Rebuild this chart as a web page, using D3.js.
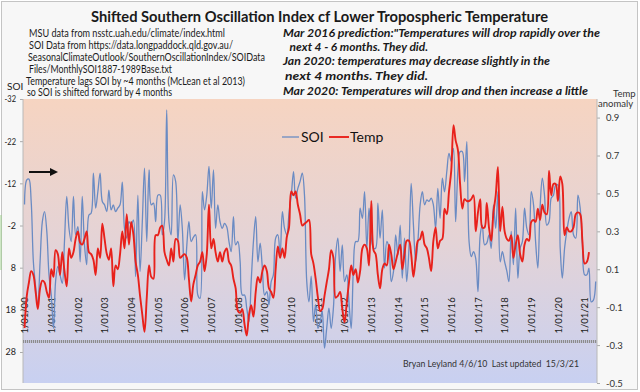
<!DOCTYPE html>
<html><head><meta charset="utf-8">
<script src="https://cdn.jsdelivr.net/npm/d3@7"></script>
<style>
body{margin:0;background:#fff}
svg{display:block}
text{font-family:Lato,"Open Sans",sans-serif}
</style></head>
<body><svg id="c" width="640" height="392"></svg>
<script>
// ---------- DATA ----------
const startMonth = [2000, 0];            // January 2000
const seriesNames = ["SOI", "Temp"];
// SOI (shifted forward 4 months), monthly from Jan 2000
const soiValues = [
-7,-12.8,-13,-7.7,6.6,12.5,16.8,6.6,-2.9,-5.3,-0.6,9.7,
14.5,22.4,11.3,7.7,9.7,11.7,1.8,-8.9,-1.3,1.8,-8.9,0.2,
-1.7,6.6,-8.9,2.6,7.3,-4.5,-4.9,-14.4,-6.1,-10,-14.4,-7.7,
-6.9,-5.3,-10.4,-5.7,-6.9,-5.3,-6.1,-6.9,-12.3,-1.3,1,-2.9,
-2.1,-3.3,10.1,-9.2,8.9,-2.9,-15.6,1.8,-15.2,-6.9,-7.3,-2.9,
-9.2,-9.2,0.2,-2.9,-29.4,-2.9,0.2,-14,-12.4,1.8,-6.9,-1.3,
10.9,2.6,-2.9,1.8,0.8,0.2,14.5,15.3,-10,-5.7,-9.2,-16,
-6.1,-15.2,-1.3,-6.9,-2.9,-1.3,-2.5,-1.7,1.8,4.2,-4.1,2.6,
1.8,6.6,14.5,14.5,17.6,20.8,11.3,1.8,-4.1,6.6,2.2,8.1,
14.5,13.7,16.8,11.3,9.7,1,0.2,5,-5.3,-1.3,0.2,-4.9,
-9.2,-14.8,-8.5,-10.8,-12.4,-14.4,-9.2,11.3,16.1,10,20.8,16.8,
22.4,20.8,18.4,27.1,22.4,17.6,22.4,17.6,5,1,8.9,2.6,
11.3,9.7,16.1,22.4,8.1,1.8,1.8,-6.1,-3.7,-10,3.4,-6.1,
1,3.4,3.4,-7.3,1,-5.7,8.1,1.8,3.4,11.3,8.9,0.2,
5,-2.1,10.5,1,11.3,3.4,-12,-2.1,6.6,1.8,-6.9,-10,
-6.9,-8.1,-7.7,-8.5,-6.9,-1.3,-10.8,-3.7,-13.2,-10,-14.8,-19.1,
-17.2,-20.3,-2.9,-15,-19.5,-19.5,-12.4,-21.9,1.8,5.4,4.2,5.8,
13.7,0.2,-2.1,2.6,2.2,0.2,3.4,-6.9,-1.3,-10,6.6,4.2,
6.6,8.9,11.3,-0.6,7.3,-6.1,10.5,3.4,1.8,-6.1,-1.3,0.2,
-10,-6.9,1.8,8.1,-6.1,-13.2,-9.2,-2.1,-2.9,-8.5,-9.2,-11.6,
-11.6,3.4,10.5,3.4,-0.6,-3.7,-5.3,0.2,1,-9.2,-6.1,2.6,
9.7,9.7,8.1,16.1,15.7,11.3
];
// Lower tropospheric temperature anomaly, monthly from Jan 2000
const tempValues = [
-0.21,-0.04,0.03,0.09,0.07,-0.02,-0.11,0.0,0.04,0.03,-0.02,-0.05,
0.10,0.06,0.20,0.18,0.07,0.19,0.09,0.01,0.21,0.16,0.19,0.26,
0.30,0.24,0.23,0.26,0.30,0.19,0.18,0.15,0.07,0.21,0.16,0.34,
0.26,0.18,0.15,0.21,0.01,0.12,0.10,0.18,0.30,0.21,0.39,0.23,
0.35,0.28,0.14,0.07,-0.04,-0.14,-0.23,-0.05,0.12,0.06,0.05,0.28,
0.28,0.32,0.33,0.19,0.15,0.12,0.21,0.14,0.26,0.25,0.16,0.17,
0.18,0.16,0.05,-0.07,0.02,0.07,0.12,0.14,0.19,0.09,0.18,0.44,
0.21,0.26,0.19,0.14,0.19,0.14,0.19,0.21,0.14,0.12,0.05,0.0,
-0.12,-0.13,-0.11,-0.19,-0.25,-0.14,-0.09,-0.15,-0.02,0.06,0.03,0.09,
0.12,0.09,0.0,-0.02,-0.05,0.10,0.22,0.16,0.21,0.16,0.27,0.32,
0.51,0.49,0.51,0.44,0.39,0.33,0.34,0.35,0.36,0.18,0.13,0.05,
-0.05,-0.12,-0.11,-0.04,0.03,0.10,0.20,0.16,-0.05,-0.04,-0.02,-0.11,
-0.18,-0.07,0.03,0.12,0.07,0.10,0.03,0.09,0.21,0.23,0.21,0.12,
0.46,0.20,0.18,0.07,0.0,0.10,0.13,0.12,0.23,0.18,0.10,0.14,
0.19,0.23,0.10,0.18,0.25,0.25,0.18,0.06,0.16,0.25,0.26,0.30,
0.23,0.21,0.16,0.09,0.25,0.32,0.21,0.25,0.26,0.42,0.39,0.51,
0.62,0.86,0.78,0.73,0.55,0.42,0.47,0.46,0.46,0.47,0.49,0.30,
0.40,0.47,0.32,0.32,0.45,0.32,0.25,0.40,0.49,0.64,0.30,0.43,
0.30,0.26,0.25,0.28,0.16,0.23,0.28,0.18,0.14,0.23,0.26,0.25,
0.35,0.36,0.35,0.42,0.36,0.44,0.40,0.39,0.62,0.49,0.55,0.55,
0.46,0.59,0.55,0.28,0.32,0.30,0.30,0.32,0.39,0.40,0.39,0.25,
0.13,0.14,0.19
];
const soiTicks = [-32,-22,-12,-2,8,18,28];
const tempTicks = [0.9,0.7,0.5,0.3,0.1,-0.1,-0.3,-0.5];
const yearTickYears = d3.range(2000, 2022);

// ---------- LAYOUT ----------
const L = 23, R = 597, T = 99, B = 383, axisY = 341.5;
const svg = d3.select("#c");

const start = new Date(startMonth[0], startMonth[1], 1);
const soiData = soiValues.map((v,i)=>({d:d3.timeMonth.offset(start,i), v}));
const tempData = tempValues.map((v,i)=>({d:d3.timeMonth.offset(start,i), v}));

const x = d3.scaleTime().domain([new Date(1999,11,11), new Date(2021,5,19)]).range([L,R]);
const ySoi = d3.scaleLinear().domain([-32, 28]).range([T, 352]);
const yTemp = d3.scaleLinear().domain([-0.5, 0.7]).range([B, 155.5]);

// background
svg.append("rect").attr("x",1.5).attr("y",1.5).attr("width",636).attr("height",388)
  .attr("fill","#f7f7f7").attr("stroke","#c4c4c4");
svg.append("line").attr("x1",1).attr("x2",1).attr("y1",215).attr("y2",270).attr("stroke","#9ccf8a").attr("stroke-width",1);

const defs = svg.append("defs");
const g = defs.append("linearGradient").attr("id","bg").attr("x1",0).attr("y1",0).attr("x2",0).attr("y2",1);
g.append("stop").attr("offset","0%").attr("stop-color","#f6d4c1");
g.append("stop").attr("offset","50%").attr("stop-color","#e4d3d6");
g.append("stop").attr("offset","100%").attr("stop-color","#c8d0f1");
defs.append("clipPath").attr("id","clip").append("rect").attr("x",L).attr("y",T).attr("width",R-L).attr("height",B-T);

svg.append("rect").attr("x",L).attr("y",T).attr("width",R-L).attr("height",B-T).attr("fill","url(#bg)");

// axes
const la = svg.append("g").attr("transform",`translate(${L},0)`)
  .call(d3.axisLeft(ySoi).tickValues(soiTicks).tickSize(3).tickPadding(4).tickFormat(d=>String(d)));
la.select(".domain").remove();
la.append("line").attr("x1",0).attr("x2",0).attr("y1",T).attr("y2",B).attr("stroke","#b8b8b8");
la.selectAll(".tick line").attr("stroke","#aaa");
la.selectAll("text").attr("fill","#222").style("font-size","9px").style("font-family","Lato")
  .each(function(d){ if(String(d).length>2) d3.select(this).attr("textLength",11.5).attr("lengthAdjust","spacingAndGlyphs"); });

const ra = svg.append("g").attr("transform",`translate(${R},0)`)
  .call(d3.axisRight(yTemp).tickValues(tempTicks).tickSize(3).tickPadding(6).tickFormat(d=>d.toFixed(1)));
ra.select(".domain").remove();
ra.append("line").attr("x1",0).attr("x2",0).attr("y1",T).attr("y2",B).attr("stroke","#b8b8b8");
ra.selectAll(".tick line").attr("stroke","#aaa");
ra.selectAll("text").attr("fill","#333").style("font-size","9.5px").style("font-family","Lato");

// category axis (dotted line with rotated date labels)
svg.append("line").attr("x1",L).attr("x2",R).attr("y1",axisY).attr("y2",axisY)
  .attr("stroke","#8c8c8c").attr("stroke-width",3).attr("stroke-dasharray","1.2,0.8");
const xa = svg.append("g").attr("transform",`translate(0,${axisY})`)
  .call(d3.axisBottom(x).tickValues(yearTickYears.map(y=>new Date(y,0,1))).tickSize(0)
    .tickFormat(d3.timeFormat("%-d/%m/%y")));
xa.select(".domain").remove();
xa.selectAll("text").attr("transform","rotate(-90)").attr("x",8).attr("y",0).attr("dy","0.35em")
  .style("text-anchor","start").attr("fill","#222").style("font-size","9.5px").style("font-family","Lato");

// lines
const plot = svg.append("g").attr("clip-path","url(#clip)");
plot.append("path").datum(soiData).attr("fill","none").attr("stroke","#6a8bc3").attr("stroke-width",1.3)
  .attr("d", d3.line().x(d=>x(d.d)).y(d=>ySoi(d.v)).curve(d3.curveCatmullRom.alpha(0.5)));
plot.append("path").datum(tempData).attr("fill","none").attr("stroke","#e8211b").attr("stroke-width",1.9)
  .attr("d", d3.line().x(d=>x(d.d)).y(d=>yTemp(d.v)).curve(d3.curveCatmullRom.alpha(0.5)));

// legend
const leg = svg.append("g");
[[282,299,"#6a8bc3",1.3,301],[329,349,"#e8211b",1.9,350]].forEach((p,i)=>{
  leg.append("line").attr("x1",p[0]).attr("x2",p[1]).attr("y1",137).attr("y2",137).attr("stroke",p[2]).attr("stroke-width",p[3]);
  leg.append("text").attr("x",p[4]).attr("y",142).text(seriesNames[i]).attr("fill","#111").style("font-size","14px");
});

// arrow
svg.append("line").attr("x1",29).attr("x2",51).attr("y1",172).attr("y2",172).attr("stroke","#111").attr("stroke-width",2);
svg.append("path").attr("d","M50,168 L58,172 L50,176 Z").attr("fill","#111");

// texts
function txt(s,x0,y0,len,size,opts={}){
  const t = svg.append("text").attr("x",x0).attr("y",y0).text(s)
    .style("font-size",size+"px").style("white-space","pre").attr("fill",opts.fill||"#1a1a1a");
  if(opts.bold) t.style("font-weight","bold");
  if(opts.italic) t.style("font-style","italic");
  if(len) t.attr("textLength",len).attr("lengthAdjust","spacingAndGlyphs");
  return t;
}
txt("Shifted Southern Oscillation Index cf Lower Tropospheric Temperature",91,21.5,457,15,{bold:true});
txt("MSU data from nsstc.uah.edu/climate/index.html",29,37,196,10.5);
txt("SOI Data from https://data.longpaddock.qld.gov.au/",29,49,204,10.5);
txt("SeasonalClimateOutlook/SouthernOscillationIndex/SOIData",28,61,237,10.5);
txt("Files/MonthlySOI1887-1989Base.txt",29,73,143,10.5);
txt("Temperature lags SOI by ~4 months (McLean et al 2013)",26,84.5,219,10.5);
txt("so SOI is shifted forward by 4 months",27,96,145,10.5);
txt("SOI",7,90,0,10);
txt("Mar 2016 prediction:\"Temperatures will drop rapidly over the",283,36.5,317,11.5,{bold:true,italic:true});
txt(" next 4 - 6 months. They did.",287,50.5,141,11.5,{bold:true,italic:true});
txt("Jan 2020: temperatures may decrease slightly in the",283,65,267,11.5,{bold:true,italic:true});
txt("next 4 months. They did.",285,80,143,11.5,{bold:true,italic:true});
txt("Mar 2020: Temperatures will drop and then increase a little",283,94.5,305,11.5,{bold:true,italic:true});
txt("Temp",613,97,0,9.5,{fill:"#333"});
txt("anomaly",598,107,0,9.5,{fill:"#333"});
txt("Bryan Leyland 4/6/10  Last updated  15/3/21",403,367,176,9.5,{fill:"#333"});
</script>
</body></html>
